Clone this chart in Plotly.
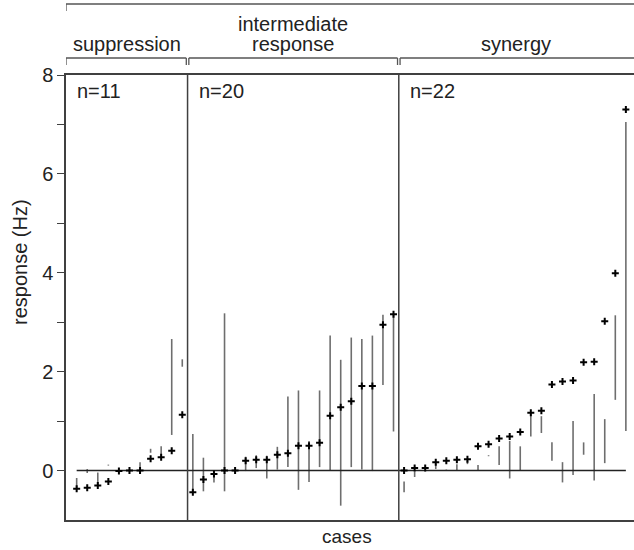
import plotly.graph_objects as go

# ---- data ----
group_names = [["suppression"], ["intermediate", "response"], ["synergy"]]
group_counts = [11, 20, 22]

suppression_val = [-0.37, -0.35, -0.30, -0.22, -0.01, 0.0, 0.0, 0.24, 0.27, 0.40, 1.13]
suppression_lo = [-0.37, -0.05, -0.30, 0.10, None, None, 0.07, 0.36, 0.27, 0.72, 2.10]
suppression_hi = [-0.15, 0.03, -0.04, 0.12, None, None, 0.17, 0.44, 0.49, 2.66, 2.25]

intermediate_val = [-0.44, -0.18, -0.07, 0.0, 0.0, 0.20, 0.22, 0.22, 0.32, 0.35,
                    0.50, 0.50, 0.56, 1.11, 1.28, 1.40, 1.71, 1.71, 2.95, 3.16]
intermediate_lo = [-0.44, -0.42, -0.24, -0.42, None, -0.01, 0.05, -0.16, 0.02, 0.07,
                   -0.39, -0.23, 0.07, -0.01, -0.71, 0.07, 0.02, -0.01, 1.73, 0.79]
intermediate_hi = [0.74, 0.26, -0.07, 3.18, None, 0.28, 0.31, 0.30, 0.48, 1.50,
                   1.62, 0.60, 1.62, 2.73, 2.24, 2.69, 2.66, 2.73, 3.15, 3.16]

synergy_val = [0.0, 0.05, 0.05, 0.17, 0.20, 0.22, 0.23, 0.49, 0.53, 0.65, 0.69,
               0.78, 1.17, 1.21, 1.74, 1.80, 1.82, 2.19, 2.20, 3.02, 3.99, 7.30]
synergy_lo = [-0.44, -0.13, None, 0.03, 0.0, -0.01, 0.13, 0.0, 0.29, 0.11, -0.16,
              0.0, 0.69, 0.76, 0.20, -0.24, -0.09, 0.32, -0.20, 0.15, 1.43, 0.80]
synergy_hi = [-0.22, -0.02, None, 0.13, 0.02, 0.13, 0.20, 0.11, 0.31, 0.49, 0.60,
              0.49, 1.15, 1.10, 0.57, 0.17, 1.00, 0.57, 1.55, 1.04, 3.14, 7.05]

values = suppression_val + intermediate_val + synergy_val
lows = suppression_lo + intermediate_lo + synergy_lo
highs = suppression_hi + intermediate_hi + synergy_hi
cases = list(range(1, len(values) + 1))

FONT = "Liberation Sans, Arial, sans-serif"
TXT = "#222222"
AX = "#404040"
BR = "#555555"
FS = 20
XMAX = 53.77

fig = go.Figure()

# range lines
lx, ly = [], []
for c, lo, hi in zip(cases, lows, highs):
    if lo is None:
        continue
    lx += [c, c, None]
    ly += [lo, hi, None]
fig.add_trace(go.Scatter(x=lx, y=ly, mode="lines",
                         line=dict(color="#6e6e6e", width=1.6),
                         hoverinfo="skip", showlegend=False))

# zero line across the cases
fig.add_trace(go.Scatter(x=[cases[0], cases[-1]], y=[0, 0], mode="lines",
                         line=dict(color="#222222", width=1.5),
                         hoverinfo="skip", showlegend=False))

# points
fig.add_trace(go.Scatter(x=cases, y=values, mode="markers",
                         marker=dict(symbol="cross-thin", size=5,
                                     line=dict(color="black", width=2)),
                         showlegend=False))

# group boundaries
bounds = [-0.01]
acc = 0
for n in group_counts:
    acc += n
    bounds.append(acc + 0.5)
bounds[-1] = XMAX

shapes = []
for b in bounds[1:-1]:
    shapes.append(dict(type="line", xref="x", yref="y", x0=b, x1=b, y0=-1, y1=8,
                       line=dict(color=AX, width=1.5)))


def py(px):
    return (520 - px) / 445.0


# top overall bracket
shapes.append(dict(type="line", xref="x", yref="paper", x0=bounds[0], x1=XMAX,
                   y0=py(4), y1=py(4), line=dict(color=BR, width=1.3)))
shapes.append(dict(type="line", xref="x", yref="paper", x0=bounds[0], x1=bounds[0],
                   y0=py(4), y1=py(11), line=dict(color=BR, width=1.3)))

# group brackets
for i in range(3):
    a = bounds[i] + (0.0 if i == 0 else 0.12)
    b = bounds[i + 1] - (0.12 if i < 2 else 0.0)
    shapes.append(dict(type="line", xref="x", yref="paper", x0=a, x1=b,
                       y0=py(58), y1=py(58), line=dict(color=BR, width=1.3)))
    shapes.append(dict(type="line", xref="x", yref="paper", x0=a, x1=a,
                       y0=py(58), y1=py(65), line=dict(color=BR, width=1.3)))
    if i < 2:
        shapes.append(dict(type="line", xref="x", yref="paper", x0=b, x1=b,
                           y0=py(58), y1=py(65), line=dict(color=BR, width=1.3)))

annotations = []
for i, lines in enumerate(group_names):
    cx = (bounds[i] + bounds[i + 1]) / 2
    for k, line in enumerate(reversed(lines)):
        annotations.append(dict(text=line, x=cx, xref="x", y=py(44 - 20 * k), yref="paper",
                                xanchor="center", yanchor="middle", showarrow=False,
                                font=dict(family=FONT, size=FS, color=TXT)))
    annotations.append(dict(text=f"n={group_counts[i]}", x=bounds[i] + 0.85, xref="x",
                            y=py(91), yref="paper", xanchor="left", yanchor="middle",
                            showarrow=False,
                            font=dict(family=FONT, size=FS, color=TXT)))

annotations.append(dict(text="cases", x=(347 - 66) / 568, xref="paper", y=py(536),
                        yref="paper", xanchor="center", yanchor="middle", showarrow=False,
                        font=dict(family=FONT, size=FS - 1, color=TXT)))
annotations.append(dict(text="response (Hz)", x=(20 - 66) / 568, xref="paper",
                        y=py(262), yref="paper", xanchor="center", yanchor="middle",
                        textangle=-90, showarrow=False,
                        font=dict(family=FONT, size=FS, color=TXT)))

tickvals = [0, 1, 2, 3, 4, 5, 6, 7, 8]
ticktext = ["0", "", "2", "", "4", "", "6", "", "8"]

fig.update_layout(
    width=634, height=550, autosize=False,
    margin=dict(l=66, r=0, t=75, b=30, pad=0),
    plot_bgcolor="white", paper_bgcolor="white",
    shapes=shapes, annotations=annotations,
    xaxis=dict(range=[-0.01, XMAX], showgrid=False, zeroline=False,
               showticklabels=False, ticks="", showline=True, mirror=True,
               linecolor=AX, linewidth=1.5, fixedrange=True),
    yaxis=dict(range=[-1, 8], showgrid=False, zeroline=False,
               tickvals=tickvals, ticktext=ticktext, ticks="outside", ticklen=7,
               tickwidth=1.3, tickcolor=AX, showline=True, linecolor=AX,
               linewidth=1.5, tickfont=dict(family=FONT, size=FS, color=TXT),
               fixedrange=True),
    font=dict(family=FONT),
)

fig.write_html("out.html", config={"displayModeBar": False},
               post_script="document.body.style.margin='0';")
